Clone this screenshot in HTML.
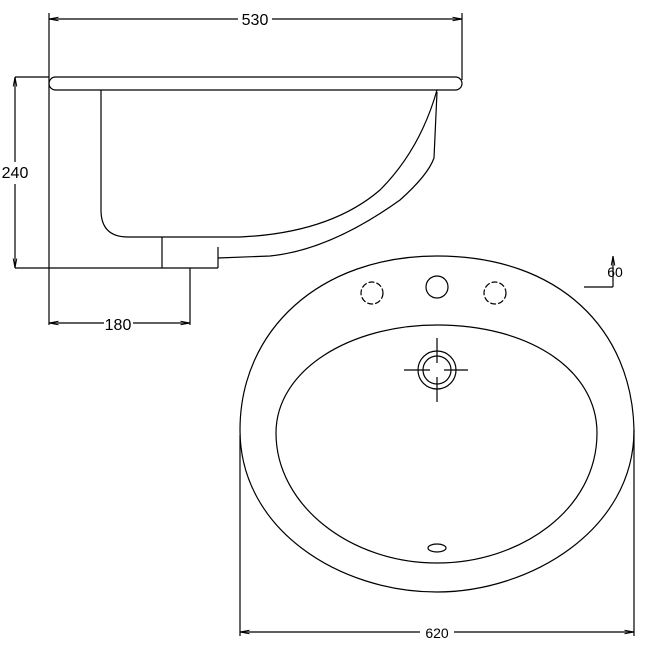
<!DOCTYPE html>
<html><head><style>body{margin:0;background:#fff}svg{display:block}</style></head><body>
<svg width="650" height="650" viewBox="0 0 650 650" xmlns="http://www.w3.org/2000/svg" fill="none" stroke="#000" stroke-width="1.2">
<defs><marker id="a" markerWidth="8" markerHeight="6" refX="8" refY="3" orient="auto-start-reverse"><path d="M0,1.5 L8,3 L0,4.5" stroke-width="0.8"/></marker></defs>
<g font-family="Liberation Sans, sans-serif" font-size="16" fill="#000" stroke="none">
<text x="255" y="25" text-anchor="middle" fill="#000">530</text>
<text x="15" y="178" text-anchor="middle" fill="#000">240</text>
<text x="118" y="330" text-anchor="middle" fill="#000">180</text>
<text x="437" y="638" text-anchor="middle" fill="#000" font-size="14">620</text>
<text x="615" y="277" text-anchor="middle" fill="#000" font-size="14">60</text>
</g>
<line x1="49" y1="19" x2="238" y2="19" marker-start="url(#a)"/>
<line x1="272" y1="19" x2="462" y2="19" marker-end="url(#a)"/>
<line x1="49" y1="13" x2="49" y2="325"/>
<line x1="462" y1="13" x2="462" y2="80"/>
<line x1="15" y1="77" x2="49" y2="77"/>
<line x1="15" y1="77" x2="15" y2="162" marker-start="url(#a)"/>
<line x1="15" y1="184" x2="15" y2="268" marker-end="url(#a)"/>
<line x1="15" y1="268" x2="218" y2="268"/>
<line x1="49" y1="323" x2="104" y2="323" marker-start="url(#a)"/>
<line x1="133" y1="323" x2="190" y2="323" marker-end="url(#a)"/>
<line x1="190" y1="268" x2="190" y2="325"/>
<rect x="49" y="77" width="413" height="13" rx="6.5"/>
<path d="M101,90 L101,210 Q101,237 128,237 L240,237 Q330,233 380,190 Q420,150 437,90"/>
<path d="M437,92 L434,158 Q428,175 400,200 Q330,250 270,256 L218,258"/>
<line x1="162" y1="237" x2="162" y2="268"/>
<line x1="218" y1="247" x2="218" y2="268"/>
<path d="M437,256 C560,256 632,330 634,430 C634,530 530,592 437,592 C340,592 240,530 240,430 C240,330 320,256 437,256 Z"/>
<path d="M437,325 C530,325 597,370 597,433 C597,510 520,563 437,563 C350,563 276,505 276,433 C276,370 350,325 437,325 Z"/>
<circle cx="372" cy="293" r="11" stroke-dasharray="6,2"/>
<circle cx="437" cy="287" r="11"/>
<circle cx="495" cy="293" r="11" stroke-dasharray="6,2"/>
<circle cx="437" cy="370" r="19"/>
<circle cx="437" cy="370" r="14"/>
<path d="M404,370 H430 M444,370 H468 M437,338 V363 M437,377 V402"/>
<ellipse cx="437" cy="548" rx="9" ry="4"/>
<line x1="240" y1="435" x2="240" y2="636"/>
<line x1="634" y1="430" x2="634" y2="636"/>
<line x1="240" y1="632" x2="420" y2="632" marker-start="url(#a)"/>
<line x1="454" y1="632" x2="634" y2="632" marker-end="url(#a)"/>
<line x1="584" y1="287" x2="613" y2="287"/>
<line x1="613" y1="256" x2="613" y2="287" marker-start="url(#a)"/>
</svg>
</body></html>
